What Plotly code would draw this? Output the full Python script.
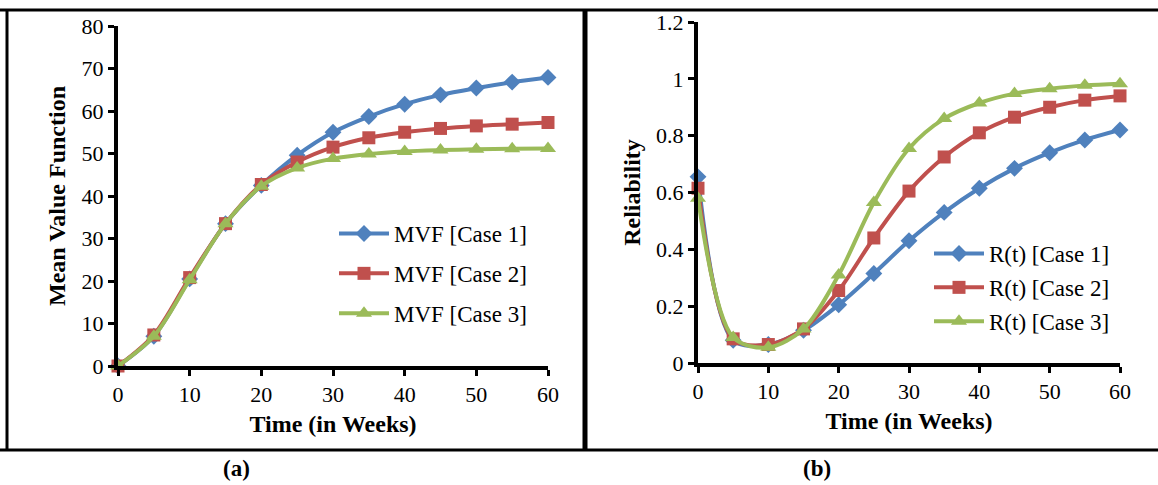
import plotly.graph_objects as go

weeks = [0, 5, 10, 15, 20, 25, 30, 35, 40, 45, 50, 55, 60]

mvf_case1 = [0, 7.0, 20.5, 33.5, 42.5, 49.6, 55.0, 58.7, 61.6, 63.8, 65.4, 66.8, 67.9]
mvf_case2 = [0, 7.3, 20.8, 33.5, 42.7, 48.0, 51.5, 53.7, 55.0, 55.9, 56.5, 56.9, 57.3]
mvf_case3 = [0, 7.0, 20.3, 33.5, 42.3, 46.6, 48.8, 49.9, 50.5, 50.8, 51.0, 51.1, 51.2]

rel_case1 = [0.655, 0.08, 0.065, 0.115, 0.205, 0.315, 0.43, 0.53, 0.615, 0.685, 0.74, 0.785, 0.82]
rel_case2 = [0.615, 0.085, 0.065, 0.12, 0.255, 0.44, 0.605, 0.725, 0.81, 0.865, 0.90, 0.925, 0.94]
rel_case3 = [0.58, 0.09, 0.055, 0.12, 0.31, 0.565, 0.755, 0.86, 0.915, 0.948, 0.965, 0.977, 0.983]

mvf_names = ["MVF [Case 1]", "MVF [Case 2]", "MVF [Case 3]"]
rel_names = ["R(t) [Case 1]", "R(t) [Case 2]", "R(t) [Case 3]"]

colors = ["#4F81BD", "#C0504D", "#9BBB59"]
symbols = ["diamond", "square", "triangle-up"]
msizes = [13, 13, 14]

W, H = 1158, 485
FONT = "Liberation Serif, Times New Roman, serif"

fig = go.Figure()

for i, (ys, nm) in enumerate(zip([mvf_case1, mvf_case2, mvf_case3], mvf_names)):
    fig.add_trace(go.Scatter(
        x=weeks, y=ys, name=nm, mode="lines+markers",
        line=dict(color=colors[i], width=4, shape="spline", smoothing=0.9),
        marker=dict(symbol=symbols[i], size=msizes[i], color=colors[i]),
        xaxis="x", yaxis="y", legend="legend", legendgroup="a%d" % i,
        cliponaxis=False,
    ))

for i, (ys, nm) in enumerate(zip([rel_case1, rel_case2, rel_case3], rel_names)):
    fig.add_trace(go.Scatter(
        x=weeks, y=ys, name=nm, mode="lines+markers",
        line=dict(color=colors[i], width=4, shape="spline", smoothing=0.9),
        marker=dict(symbol=symbols[i], size=msizes[i], color=colors[i]),
        xaxis="x2", yaxis="y2", legend="legend2", legendgroup="b%d" % i,
        cliponaxis=False,
    ))

def px_x(p):
    return p / W

def px_y(p):
    return 1 - p / H

axis_common = dict(
    showline=True, linecolor="black", linewidth=4, mirror=False,
    ticks="outside", ticklen=6, tickwidth=3, tickcolor="black",
    showgrid=False, zeroline=False, automargin=False,
    tickfont=dict(family=FONT, size=22, color="black"),
)

TF = dict(family=FONT, size=24, color="black")

fig.update_layout(
    width=W, height=H,
    margin=dict(l=0, r=0, t=0, b=0, autoexpand=False),
    paper_bgcolor="white", plot_bgcolor="white",
    font=dict(family=FONT, color="black"),
    xaxis=dict(domain=[px_x(118), px_x(548)], range=[0, 60], dtick=10, anchor="y",
               title=dict(text="<b>Time (in Weeks)</b>", font=TF, standoff=10),
               **axis_common),
    yaxis=dict(domain=[px_y(366), px_y(26)], range=[0, 80], dtick=10, anchor="x",
               title=dict(text="<b>Mean Value Function</b>", font=TF, standoff=10),
               **axis_common),
    xaxis2=dict(domain=[px_x(698), px_x(1120)], range=[0, 60], dtick=10, anchor="y2",
                title=dict(text="<b>Time (in Weeks)</b>", font=TF, standoff=10),
                **axis_common),
    yaxis2=dict(domain=[px_y(363), px_y(22)], range=[0, 1.2], dtick=0.2, anchor="x2",
                title=dict(text="<b>Reliability</b>", font=TF, standoff=10),
                **axis_common),
    legend=dict(x=px_x(334), y=px_y(212), xanchor="left", yanchor="top",
                bgcolor="rgba(0,0,0,0)", font=dict(family=FONT, size=23, color="black"),
                tracegroupgap=7, itemwidth=50),
    legend2=dict(x=px_x(929), y=px_y(232), xanchor="left", yanchor="top",
                 bgcolor="rgba(0,0,0,0)", font=dict(family=FONT, size=23, color="black"),
                 tracegroupgap=1, itemwidth=50),
    showlegend=True,
)

# outer frame lines
frame = dict(type="line", xref="paper", yref="paper", line=dict(color="black", width=3))
fig.add_shape(x0=0, x1=1, y0=px_y(10), y1=px_y(10), **frame)
fig.add_shape(x0=0, x1=1, y0=px_y(450), y1=px_y(450), **frame)
fig.add_shape(x0=px_x(7), x1=px_x(7), y0=px_y(10), y1=px_y(450), **frame)
fig.add_shape(type="line", xref="paper", yref="paper", x0=px_x(585), x1=px_x(585),
              y0=px_y(10), y1=px_y(450), line=dict(color="black", width=5))

fig.add_annotation(text="<b>(a)</b>", x=px_x(236), y=px_y(468), xref="paper", yref="paper",
                   xanchor="center", yanchor="middle",
                   showarrow=False, font=dict(family=FONT, size=23, color="black"))
fig.add_annotation(text="<b>(b)</b>", x=px_x(817), y=px_y(468), xref="paper", yref="paper",
                   xanchor="center", yanchor="middle",
                   showarrow=False, font=dict(family=FONT, size=23, color="black"))

fig.write_html("out.html", config={"displayModeBar": False},
               post_script="document.body.style.margin='0';")
